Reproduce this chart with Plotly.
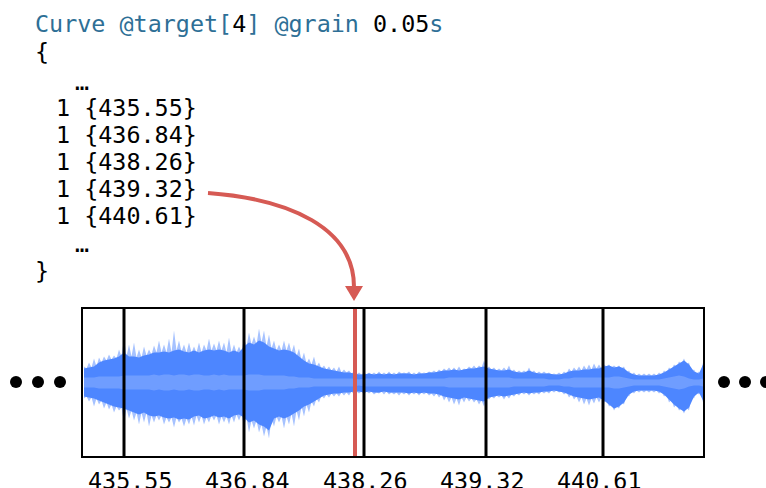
import numpy as np
import plotly.graph_objects as go

# ---------------- data ----------------
code_title = ('<span style="color:#2e6f96">Curve @target[</span>4'
              '<span style="color:#2e6f96">]</span> <span style="color:#2e6f96">@grain</span> 0.05'
              '<span style="color:#2e6f96">s</span>')
onset_times = ["435.55", "436.84", "438.26", "439.32", "440.61"]
onset_weights = ["1", "1", "1", "1", "1"]

# waveform sample positions along the strip (strip units)
wave_x = list(range(84, 700, 5)) + [703]

# envelope amplitudes (strip units)
peak_up = [16, 20, 24, 25, 26, 28, 27, 33,
           44, 38, 40, 33, 36, 33, 37, 42, 38, 44, 52, 42, 38, 40, 36, 40, 38, 44, 39, 42, 40, 45, 38, 36,
           45, 50, 46, 54, 52, 48, 42, 38, 42, 40, 38, 34,
           30, 24, 26, 20, 17, 16, 15, 16, 13, 12, 11, 10,
           10, 10, 10, 11, 10, 11, 10, 11, 10, 11, 10, 11, 10, 11, 12, 13, 14, 15, 15, 16, 14, 16, 17, 17,
           22, 16, 15, 14, 15, 17, 13, 12, 12, 15, 12, 11, 11, 10, 9, 10, 11, 14, 15, 16, 17, 18, 19, 18,
           18, 18, 17, 17, 16, 12, 10, 9, 9, 9, 9, 10, 12, 15, 18, 21, 24, 20, 13, 11,
           20]
peak_down = [16, 19, 24, 22, 26, 27, 30, 28,
             40, 36, 38, 42, 40, 44, 40, 38, 42, 40, 45, 40, 44, 42, 43, 40, 42, 40, 38, 42, 40, 42, 40, 38,
             44, 50, 46, 50, 54, 56, 44, 40, 46, 42, 44, 38,
             34, 30, 24, 20, 16, 15, 14, 14, 13, 13, 12, 11,
             12, 11, 12, 11, 12, 12, 12, 13, 12, 13, 12, 13, 12, 13, 14, 15, 18, 20, 22, 23, 20, 19, 20, 22,
             24, 17, 16, 15, 17, 16, 14, 13, 12, 13, 12, 12, 11, 11, 10, 10, 12, 15, 17, 20, 22, 23, 21, 20,
             20, 24, 28, 26, 22, 14, 11, 10, 10, 10, 10, 11, 14, 20, 25, 28, 31, 28, 16, 12,
             20]
body_up = [14, 15, 16, 20, 22, 23, 24, 26,
           30, 26, 26, 25, 27, 28, 30, 30, 31, 30, 32, 33, 31, 30, 32, 30, 32, 33, 32, 33, 32, 30, 32, 30,
           36, 40, 38, 42, 40, 36, 34, 32, 33, 32, 30, 26,
           22, 19, 18, 16, 14, 13, 12, 11, 10, 10, 9, 8,
           8, 9, 8, 9, 8, 9, 8, 9, 9, 9, 8, 9, 9, 10, 10, 11, 12, 12, 13, 12, 13, 14, 14, 15,
           16, 14, 13, 12, 12, 13, 11, 10, 10, 12, 10, 9, 9, 9, 8, 8, 9, 11, 12, 12, 13, 13, 14, 14,
           16, 17, 15, 16, 14, 10, 8, 7, 7, 7, 7, 8, 10, 13, 16, 19, 22, 18, 11, 9,
           18]
body_down = [14, 15, 16, 18, 20, 22, 24, 25,
             26, 28, 30, 32, 30, 33, 34, 33, 35, 36, 35, 37, 36, 37, 34, 33, 36, 35, 33, 35, 34, 36, 33, 32,
             35, 40, 38, 42, 44, 48, 36, 34, 36, 34, 31, 28,
             24, 22, 19, 16, 13, 12, 11, 11, 10, 10, 9, 9,
             10, 9, 10, 10, 9, 10, 10, 10, 10, 11, 10, 11, 10, 11, 11, 12, 14, 15, 16, 17, 15, 16, 17, 18,
             19, 15, 14, 13, 14, 13, 12, 11, 10, 11, 10, 10, 9, 9, 8, 9, 10, 12, 14, 15, 16, 17, 16, 15,
             18, 22, 26, 24, 20, 12, 9, 8, 8, 8, 8, 9, 12, 17, 22, 26, 29, 25, 14, 10,
             18]
rms_half = [5, 5, 5, 6, 6, 6, 6, 6,
            7, 7, 7, 7, 7, 7, 8, 7, 8, 8, 7, 8, 8, 7, 8, 8, 7, 7, 8, 7, 8, 7, 7, 7,
            7, 8, 8, 8, 7, 7, 7, 7, 7, 6, 6, 5,
            5, 5, 4, 4, 4, 4, 4, 4, 4, 4, 4, 3,
            4, 4, 4, 4, 4, 4, 4, 4, 4, 4, 4, 4, 4, 4, 4, 4, 4, 5, 5, 5, 5, 5, 5, 5,
            5, 5, 5, 5, 5, 5, 4, 4, 4, 4, 4, 4, 4, 3, 3, 3, 4, 4, 5, 5, 5, 5, 5, 5,
            5, 5, 6, 6, 5, 4, 3, 3, 3, 3, 3, 3, 4, 5, 6, 7, 6, 4, 3, 3,
            4]

# onset marker positions on the strip, and the highlighted (red) position
onset_pos = [124, 244, 364, 486, 603]
highlight_pos = 355

# ---------------- styling / layout constants ----------------
W, H = 766, 488
BOX_L, BOX_R, BOX_T, BOX_B = 82, 704, 308, 457
MONO = "DejaVu Sans Mono"
FS = 23.4
TEAL = "#2e6f96"
RED = "#d65a54"
label_px = [130, 247, 365, 482, 599]

fig = go.Figure()


def spiky(vals, base):
    """Peaks at the samples, dropping back to the body level between them."""
    xs, ys = [], []
    n = len(wave_x)
    for i in range(n):
        xs.append(wave_x[i])
        ys.append(vals[i])
        if i < n - 1:
            xs.append((wave_x[i] + wave_x[i + 1]) / 2)
            ys.append(min(base[i], base[i + 1]))
    return xs, ys


def band_xy(ux, uy, lx, ly):
    return list(ux) + list(lx)[::-1], list(uy) + [-v for v in ly][::-1]


def add_poly(xs, ys, color):
    fig.add_trace(go.Scatter(x=xs, y=ys, fill="toself", fillcolor=color,
                             mode="lines", line=dict(width=0, color=color),
                             hoverinfo="skip", showlegend=False,
                             xaxis="x", yaxis="y"))


ux, uy = spiky(peak_up, body_up)
lx, ly = spiky(peak_down, body_down)
add_poly(*band_xy(ux, uy, lx, ly), "#a6c2ff")
add_poly(*band_xy(wave_x, body_up, wave_x, body_down), "#4d86ff")
add_poly(*band_xy(wave_x, rms_half, wave_x, rms_half), "#6f9dff")

# invisible trace to instantiate the pixel overlay axes
fig.add_trace(go.Scatter(x=[0], y=[0], mode="markers", marker=dict(opacity=0),
                         hoverinfo="skip", showlegend=False, xaxis="x2", yaxis="y2"))

shapes = []
# highlighted red line
shapes.append(dict(type="line", xref="x", yref="y", x0=highlight_pos, x1=highlight_pos,
                   y0=-74.5, y1=74.5, line=dict(color=RED, width=4), layer="above"))
# onset lines
for p in onset_pos:
    shapes.append(dict(type="line", xref="x", yref="y", x0=p, x1=p, y0=-74.5, y1=74.5,
                       line=dict(color="black", width=3), layer="above"))
# box frame
shapes.append(dict(type="rect", xref="x2", yref="y2", x0=BOX_L, x1=BOX_R, y0=BOX_T, y1=BOX_B,
                   line=dict(color="black", width=2), layer="above"))
# curved arrow from the code listing to the red line
shapes.append(dict(type="path", xref="x2", yref="y2",
                   path="M 208,193 C 290,199 354,228 354,287",
                   line=dict(color=RED, width=4), layer="above"))
shapes.append(dict(type="path", xref="x2", yref="y2",
                   path="M 345,286 L 363,286 L 354,301 Z",
                   fillcolor=RED, line=dict(color=RED, width=0), layer="above"))
# ellipsis dots on both sides
for cx in [16, 38, 60, 724, 745, 766]:
    shapes.append(dict(type="circle", xref="x2", yref="y2", x0=cx - 6, x1=cx + 6,
                       y0=382 - 6, y1=382 + 6, fillcolor="black",
                       line=dict(width=0), layer="above"))

annotations = []


def txt(x, y, s, anchor="left", color="black"):
    annotations.append(dict(xref="x2", yref="y2", x=x, y=y, text=s, showarrow=False,
                            xanchor=anchor, yanchor="middle",
                            font=dict(family=MONO, size=FS, color=color)))


txt(33, 24, code_title, color="black")
txt(33, 52, "{")
txt(73, 82, "…")
for i, t in enumerate(onset_times):
    txt(54, 108 + 27 * i, f"{onset_weights[i]} {{{t}}}")
txt(73, 244, "…")
txt(33, 271, "}")
for lx_, t in zip(label_px, onset_times):
    txt(lx_, 481, t, anchor="center")

fig.update_layout(
    width=W, height=H, margin=dict(l=0, r=0, t=0, b=0),
    paper_bgcolor="white", plot_bgcolor="rgba(0,0,0,0)",
    showlegend=False,
    xaxis=dict(domain=[BOX_L / W, BOX_R / W], range=[BOX_L, BOX_R], visible=False,
               fixedrange=True),
    yaxis=dict(domain=[(H - BOX_B) / H, (H - BOX_T) / H], range=[-74.5, 74.5],
               visible=False, fixedrange=True),
    xaxis2=dict(domain=[0, 1], range=[0, W], visible=False, anchor="y2", fixedrange=True),
    yaxis2=dict(domain=[0, 1], range=[H, 0], visible=False, anchor="x2", fixedrange=True),
    shapes=shapes, annotations=annotations,
)

fig.write_html("out.html", config={"displayModeBar": False},
               post_script="document.body.style.margin='0';document.body.style.overflow='hidden';")
